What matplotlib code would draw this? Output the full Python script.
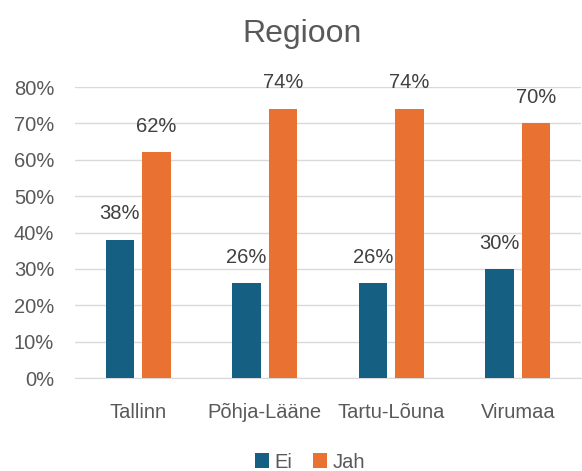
import numpy as np
import matplotlib
matplotlib.use('Agg')
import matplotlib.pyplot as plt

# data
regions = ['Tallinn', 'Põhja-Lääne', 'Tartu-Lõuna', 'Virumaa']
ei = [0.38, 0.26, 0.26, 0.30]
jah = [0.62, 0.74, 0.74, 0.70]
yticks = [0.0, 0.1, 0.2, 0.3, 0.4, 0.5, 0.6, 0.7, 0.8]

plt.rcParams['font.family'] = ['Liberation Sans', 'DejaVu Sans']
txtcol = '#595959'
c_ei = '#156082'
c_jah = '#E97132'

fig = plt.figure(figsize=(5.82, 4.71), dpi=100)
ax = fig.add_axes([75/582, 1-378/471, (581-75)/582, (378-87)/471])

x = np.arange(len(regions))
w = 0.225
off = 0.145
b1 = ax.bar(x-off, ei, w, color=c_ei, label='Ei', zorder=3)
b2 = ax.bar(x+off, jah, w, color=c_jah, label='Jah', zorder=3)

for bars, vals in [(b1, ei), (b2, jah)]:
    for b, v in zip(bars, vals):
        ax.text(b.get_x()+b.get_width()/2, v+0.045, f'{v*100:.0f}%',
                ha='center', va='bottom', fontsize=14.5, color='#404040')

ax.set_xlim(-0.5, 3.5)
ax.set_ylim(0, 0.8)
ax.set_yticks(yticks)
ax.set_yticklabels([f'{t*100:.0f}%' for t in yticks])
ax.set_xticks(x)
ax.set_xticklabels(regions)
ax.tick_params(axis='both', length=0, labelsize=14.5, labelcolor=txtcol)
ax.tick_params(axis='y', pad=15)
ax.tick_params(axis='x', pad=18)
ax.grid(axis='y', color='#d9d9d9', lw=1.0, zorder=0)
for s in ['top', 'right', 'left']:
    ax.spines[s].set_visible(False)
ax.spines['bottom'].set_color('#d9d9d9')

fig.text(302/582, 1-34/471, 'Regioon', ha='center', va='center', fontsize=23, color=txtcol)

fig.legend(handles=[b1, b2], labels=['Ei', 'Jah'], loc='center', bbox_to_anchor=(310/582, 1-462/471),
           ncol=2, frameon=False, fontsize=14.5, handlelength=0.7, handleheight=0.7,
           handletextpad=0.3, columnspacing=1.0, labelcolor=txtcol)

fig.savefig('out.png', dpi=100)
